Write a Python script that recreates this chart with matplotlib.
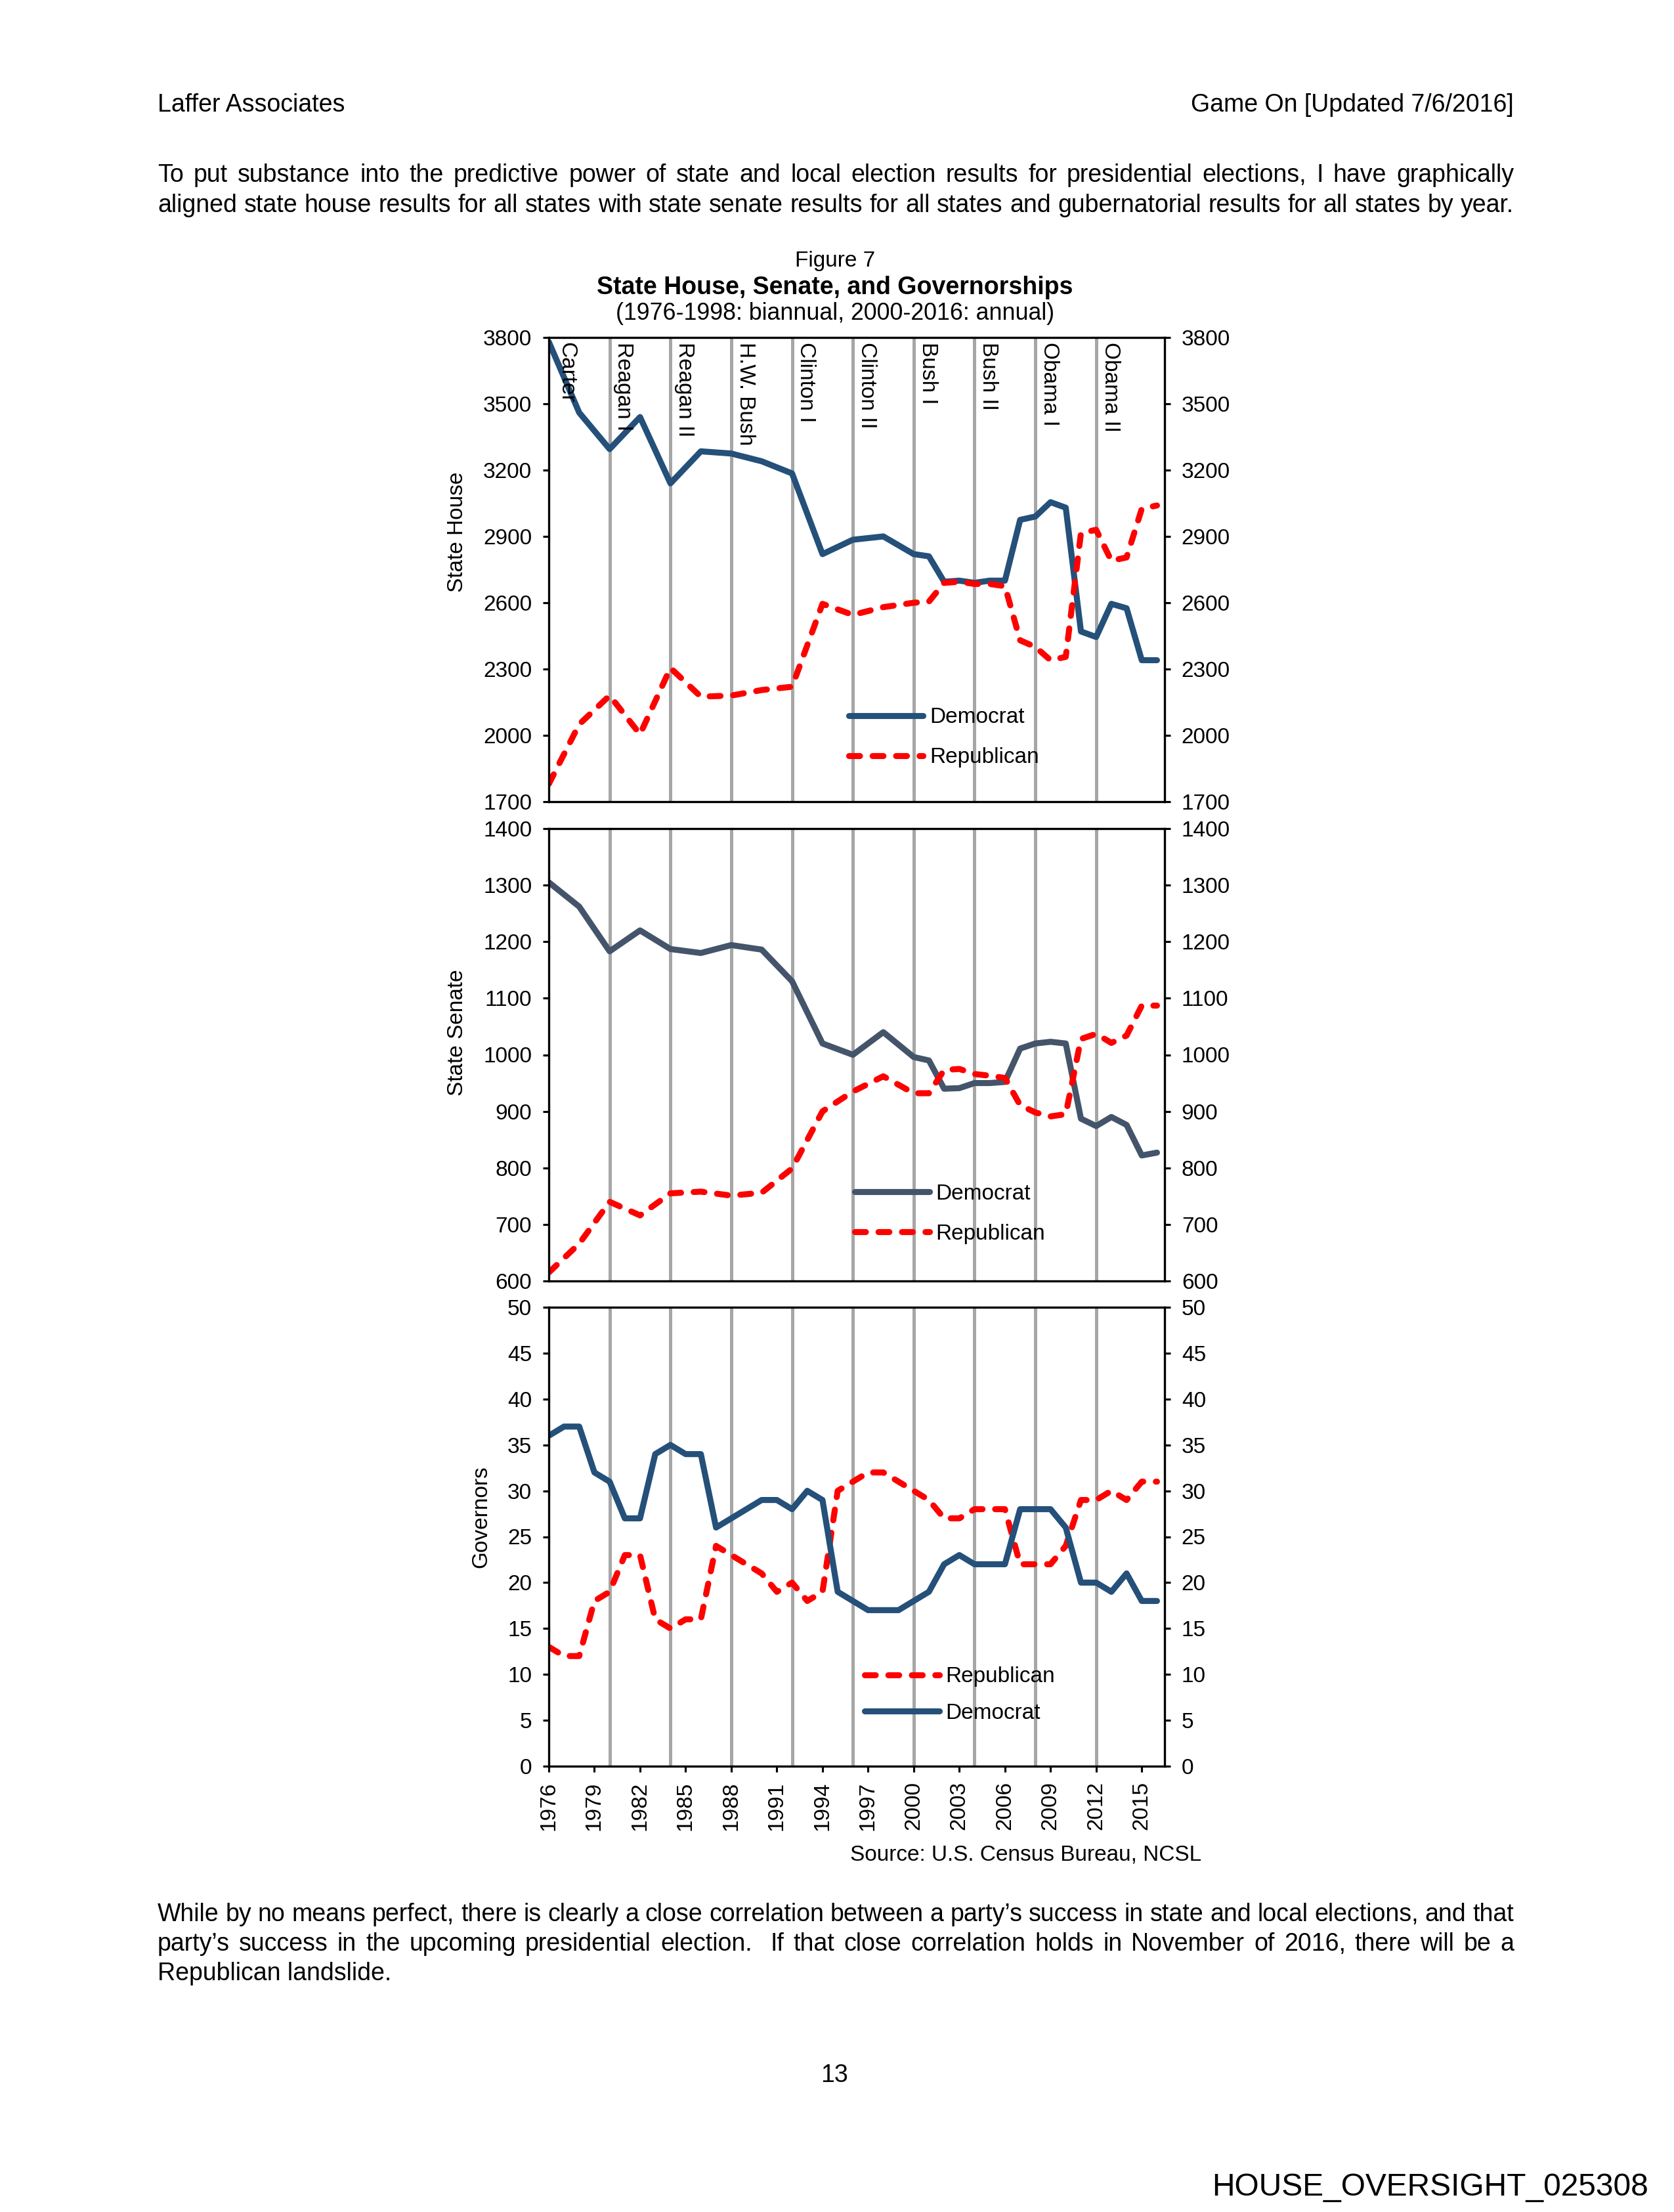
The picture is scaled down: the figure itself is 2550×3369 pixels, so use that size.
import matplotlib
matplotlib.use('Agg')
import matplotlib.pyplot as plt

plt.rcParams['font.family'] = ['Liberation Sans', 'DejaVu Sans']

# ---- data ----
house_years = list(range(1976, 2000, 2)) + list(range(2000, 2017))
house_dem = [3780, 3460, 3295, 3440, 3140, 3285, 3275, 3240, 3185, 2820, 2885, 2900,
             2820, 2810, 2695, 2700, 2690, 2700, 2700, 2975, 2990, 3055, 3030, 2470,
             2445, 2595, 2575, 2340, 2340]
house_rep = [1780, 2050, 2180, 2005, 2305, 2175, 2180, 2205, 2220, 2595, 2545, 2580,
             2600, 2605, 2690, 2695, 2685, 2685, 2675, 2430, 2400, 2340, 2355, 2915,
             2930, 2790, 2805, 3025, 3040]

senate_dem = [1305, 1262, 1183, 1220, 1187, 1180, 1194, 1186, 1130, 1020, 1000, 1040,
              996, 990, 940, 941, 950, 950, 952, 1011, 1020, 1023, 1020, 887,
              874, 890, 876, 822, 827]
senate_rep = [615, 666, 740, 716, 755, 758, 751, 756, 799, 900, 935, 962,
              932, 932, 973, 975, 966, 963, 959, 911, 898, 891, 895, 1028,
              1037, 1021, 1034, 1087, 1087]

gov_years = list(range(1976, 2017))
gov_dem = [36, 37, 37, 32, 31, 27, 27, 34, 35, 34, 34,
           26, 27, 28, 29, 29, 28, 30, 29, 19, 18,
           17, 17, 17, 18, 19, 22, 23, 22, 22, 22,
           28, 28, 28, 26, 20, 20, 19, 21, 18, 18]
gov_rep = [13, 12, 12, 18, 19, 23, 23, 16, 15, 16, 16,
           24, 23, 22, 21, 19, 20, 18, 19, 30, 31,
           32, 32, 31, 30, 29, 27, 27, 28, 28, 28,
           22, 22, 22, 24, 29, 29, 30, 29, 31, 31]

term_years = [1976, 1980, 1984, 1988, 1992, 1996, 2000, 2004, 2008, 2012]
term_names = ['Carter', 'Reagan I', 'Reagan II', 'H.W. Bush', 'Clinton I',
              'Clinton II', 'Bush I', 'Bush II', 'Obama I', 'Obama II']
x_ticks = list(range(1976, 2016, 3))

# ---- styles ----
DEM = '#24507A'
DEM_SENATE = '#44546A'
REP = '#FF0000'
GREY = '#A6A6A6'
LW = 2.2
DASH = (0, (1.8, 2.1))
FS = 8
BODY = 9.0

W, H = 2550, 3369
fig = plt.figure(figsize=(W / 300, H / 300), dpi=300)


def rect(x0, x1, y0, y1):
    return [x0 / W, 1 - y1 / H, (x1 - x0) / W, (y1 - y0) / H]


def style(ax, lo, hi, step):
    ax.set_xlim(1976, 2016.5)
    ax.set_ylim(lo, hi)
    ax.set_yticks(range(lo, hi + 1, step))
    for s in ax.spines.values():
        s.set_linewidth(0.8)
    ax.tick_params(axis='y', left=True, right=True, labelleft=True, labelright=True,
                   direction='out', length=2.2, width=0.75, pad=4, labelsize=FS)
    ax.tick_params(axis='x', bottom=False, labelbottom=False)
    for yr in term_years[1:]:
        ax.axvline(yr, color=GREY, lw=1.2, zorder=1)


def add_legend(ax, x, y, spacing):
    ax.legend(loc='upper left', bbox_to_anchor=(x, y), frameon=False, fontsize=FS,
              handlelength=3.4, handletextpad=0.3, labelspacing=spacing,
              borderpad=0, borderaxespad=0)


ax1 = fig.add_axes(rect(836, 1774, 514, 1221))
ax2 = fig.add_axes(rect(836, 1774, 1262, 1951))
ax3 = fig.add_axes(rect(836, 1774, 1991, 2690))

style(ax1, 1700, 3800, 300)
style(ax2, 600, 1400, 100)
style(ax3, 0, 50, 5)

# state house
ax1.plot(house_years, house_dem, color=DEM, lw=LW, solid_capstyle='round', label='Democrat')
ax1.plot(house_years, house_rep, color=REP, lw=LW, ls=DASH, dash_capstyle='round', label='Republican')
add_legend(ax1, 0.487, 0.203, 0.9)
ax1.set_ylabel('State House', fontsize=FS)
ax1.yaxis.set_label_coords(-0.132, 0.581)
for yr, name in zip(term_years, term_names):
    off = 0.5 if yr == 1976 else 0.25
    ax1.text(yr + off, 0.99, name, rotation=270, ha='left', va='top', fontsize=FS,
             transform=ax1.get_xaxis_transform())

# state senate
ax2.plot(house_years, senate_dem, color=DEM_SENATE, lw=LW, solid_capstyle='round', label='Democrat')
ax2.plot(house_years, senate_rep, color=REP, lw=LW, ls=DASH, dash_capstyle='round', label='Republican')
add_legend(ax2, 0.497, 0.215, 0.9)
ax2.set_ylabel('State Senate', fontsize=FS)
ax2.yaxis.set_label_coords(-0.132, 0.549)

# governors
ax3.plot(gov_years, gov_rep, color=REP, lw=LW, ls=DASH, dash_capstyle='round', label='Republican')
ax3.plot(gov_years, gov_dem, color=DEM, lw=LW, solid_capstyle='round', label='Democrat')
add_legend(ax3, 0.513, 0.217, 0.73)
ax3.set_ylabel('Governors', fontsize=FS)
ax3.yaxis.set_label_coords(-0.093, 0.544)
ax3.set_xticks(x_ticks)
ax3.set_xticklabels([str(y) for y in x_ticks], rotation=90)
ax3.tick_params(axis='x', bottom=True, labelbottom=True, direction='out',
                length=2.2, width=0.75, pad=3.4, labelsize=FS)

# ---- page text ----
renderer = fig.canvas.get_renderer()


def justified(line, x0, x1, base, size):
    words = line.split(' ')
    objs = [fig.text(0, 1 - base / H, w, fontsize=size, va='baseline') for w in words]
    widths = [t.get_window_extent(renderer).width for t in objs]
    gap = (x1 - x0 - sum(widths)) / (len(words) - 1)
    x = x0
    for t, w in zip(objs, widths):
        t.set_x(x / W)
        x += w + gap


fig.text(240 / W, 1 - 170 / H, 'Laffer Associates', fontsize=BODY, va='baseline')
fig.text(2306 / W, 1 - 170 / H, 'Game On [Updated 7/6/2016]', fontsize=BODY,
         va='baseline', ha='right')

justified('To put substance into the predictive power of state and local election results '
          'for presidential elections, I have graphically', 240, 2306, 277, BODY)
justified('aligned state house results for all states with state senate results for all '
          'states and gubernatorial results for all states by year.', 240, 2306, 323, BODY)

fig.text(1272 / W, 1 - 406 / H, 'Figure 7', fontsize=FS, ha='center', va='baseline')
fig.text(1272 / W, 1 - 448 / H, 'State House, Senate, and Governorships', fontsize=9,
         fontweight='bold', ha='center', va='baseline')
fig.text(1272 / W, 1 - 487 / H, '(1976-1998: biannual, 2000-2016: annual)', fontsize=8.6,
         ha='center', va='baseline')

fig.text(1830 / W, 1 - 2833 / H, 'Source: U.S. Census Bureau, NCSL', fontsize=FS,
         ha='right', va='baseline')

justified('While by no means perfect, there is clearly a close correlation between a '
          'party\u2019s success in state and local elections, and that', 240, 2306, 2926, BODY)
justified('party\u2019s success in the upcoming presidential election.  If that close '
          'correlation holds in November of 2016, there will be a', 240, 2306, 2971, BODY)
fig.text(240 / W, 1 - 3016 / H, 'Republican landslide.', fontsize=BODY, va='baseline')

fig.text(1271 / W, 1 - 3171 / H, '13', fontsize=BODY, ha='center', va='baseline')
fig.text(2511 / W, 1 - 3344 / H, 'HOUSE_OVERSIGHT_025308', fontsize=11.5, ha='right', va='baseline')

fig.savefig('out.png', dpi=300)
